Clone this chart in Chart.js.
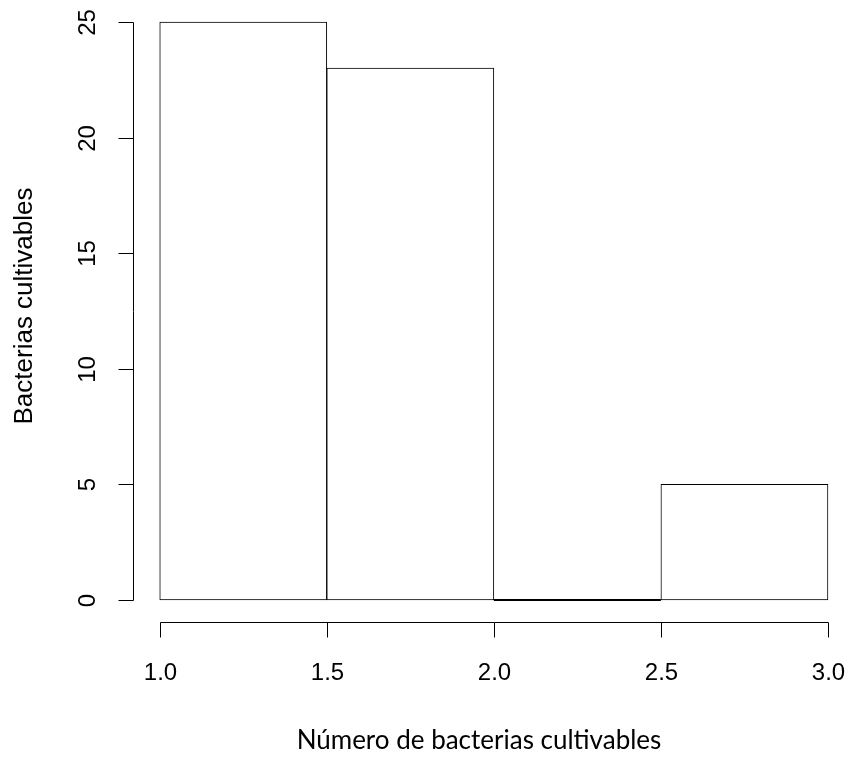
<!DOCTYPE html>
<html><head><meta charset="utf-8">
<script src="https://cdn.jsdelivr.net/npm/chart.js@4.4.1/dist/chart.umd.min.js"></script>
<style>html,body{margin:0;padding:0;background:#fff}#wrap{width:852px;height:759px}</style>
</head><body><div id="wrap"><canvas id="c" width="852" height="759"></canvas></div>
<script>
const binEdges = [1.0, 1.5, 2.0, 2.5, 3.0];
const counts = [25, 23, 0, 5];
const xTicks = [1.0, 1.5, 2.0, 2.5, 3.0];
const yTicks = [0, 5, 10, 15, 20, 25];
const xTitle = 'Número de bacterias cultivables';
const yTitle = 'Bacterias cultivables';

const barData = counts.map((v, i) => ({x: (binEdges[i] + binEdges[i+1]) / 2, y: v}));

const axesPlugin = {
  id: 'rAxes',
  afterDatasetsDraw(chart) {
    const ctx = chart.ctx, xs = chart.scales.x, ys = chart.scales.y, ca = chart.chartArea;
    ctx.save();
    ctx.strokeStyle = '#000'; ctx.lineWidth = 1; ctx.fillStyle = '#000';
    // zero-height bins drawn as a line
    counts.forEach((v, i) => {
      if (v === 0) {
        const y = Math.round(ys.getPixelForValue(0));
        ctx.lineWidth = 2;
        ctx.beginPath(); ctx.moveTo(xs.getPixelForValue(binEdges[i]), y); ctx.lineTo(xs.getPixelForValue(binEdges[i+1]), y); ctx.stroke();
        ctx.lineWidth = 1;
      }
    });
    // x axis
    const xAxisY = Math.round(ca.bottom) - 0.5;
    const px = xTicks.map(t => Math.round(xs.getPixelForValue(t)) + 0.5);
    ctx.beginPath(); ctx.moveTo(px[0], xAxisY); ctx.lineTo(px[px.length-1], xAxisY);
    px.forEach(p => { ctx.moveTo(p, xAxisY); ctx.lineTo(p, xAxisY + 15); });
    ctx.stroke();
    ctx.font = '24px "Liberation Sans", Arial, sans-serif';
    ctx.textAlign = 'center'; ctx.textBaseline = 'middle';
    xTicks.forEach((t, i) => ctx.fillText(t.toFixed(1), px[i], 673));
    // y axis
    const yAxisX = Math.round(ca.left) + 0.5;
    const py = yTicks.map(t => Math.round(ys.getPixelForValue(t)) + 0.5);
    ctx.beginPath(); ctx.moveTo(yAxisX, py[0]); ctx.lineTo(yAxisX, py[py.length-1]);
    py.forEach(p => { ctx.moveTo(yAxisX, p); ctx.lineTo(yAxisX - 15, p); });
    ctx.stroke();
    yTicks.forEach((t, i) => {
      ctx.save(); ctx.translate(88, py[i]); ctx.rotate(-Math.PI/2);
      ctx.fillText(String(t), 0, 0); ctx.restore();
    });
    // titles
    ctx.font = '26px "Liberation Sans", Arial, sans-serif';
    ctx.save(); ctx.translate(25, 306); ctx.rotate(-Math.PI/2);
    ctx.fillText(yTitle, 0, 0); ctx.restore();
    ctx.font = '26px Lato, "Open Sans", sans-serif';
    ctx.fillText(xTitle, 479, 741);
    ctx.restore();
  }
};

new Chart(document.getElementById('c'), {
  type: 'bar',
  data: { datasets: [{ data: barData, backgroundColor: '#ffffff', borderColor: '#000000', borderWidth: 1, borderSkipped: false, barPercentage: 1, categoryPercentage: 1 }] },
  options: {
    responsive: false, animation: false, devicePixelRatio: 1,
    layout: { padding: { left: 133, right: 4, top: 0, bottom: 136 } },
    plugins: { legend: { display: false }, tooltip: { enabled: false } },
    scales: {
      x: { type: 'linear', display: false, offset: false, min: 0.92, max: 3.06 },
      y: { display: false, min: -1, max: 25.95 }
    }
  },
  plugins: [axesPlugin]
});
</script></body></html>
